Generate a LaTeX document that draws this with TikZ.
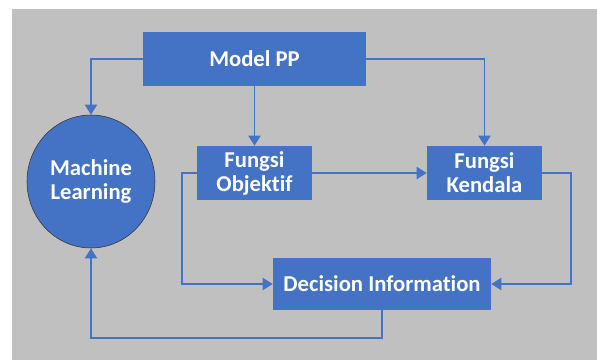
\documentclass[tikz,border=0pt]{standalone}
\usepackage{fontspec}
\setmainfont{Carlito}[Ligatures=NoCommon]
\usetikzlibrary{arrows.meta,shapes.geometric}
\definecolor{boxblue}{HTML}{4472C4}
\definecolor{bggray}{HTML}{C0C0C0}
\begin{document}
\begin{tikzpicture}[
  x=0.75pt, y=-0.75pt,
  box/.style={fill=boxblue, text=white, font=\fontsize{17}{18}\selectfont\bfseries, align=center, inner sep=0pt, minimum height=40.5pt},
  mlnode/.style={ellipse, fill=boxblue, draw=black!80, thin, text=white, font=\fontsize{17}{18.5}\selectfont\bfseries, align=center, inner sep=0pt, minimum width=96pt, minimum height=99.75pt},
  flow/.style={draw=boxblue, line width=1.4pt, -{Triangle[length=7.5pt,width=9pt]}}
  ]
  \useasboundingbox (0,0) rectangle (597,360);
  \fill[bggray] (12,9) rectangle (597,360);
  \node[box, minimum width=167.25pt] (mpp) at (254.5,59) {Model PP};
  \node[mlnode] (ml) at (91,181.5) {Machine\\Learning};
  \node[box, minimum width=86.25pt] (fo) at (254.5,173) {Fungsi\\Objektif};
  \node[box, minimum width=86.25pt] (fk) at (484.5,173) {Fungsi\\Kendala};
  \node[box, minimum width=163.5pt, minimum height=39pt] (dec) at (382,284) {Decision Information};
  \draw[flow] (mpp.west) -| (ml.north);
  \draw[flow] (mpp.south) -- (fo.north);
  \draw[flow] (mpp.east) -| (fk.north);
  \draw[flow] (fo.east) -- (fk.west);
  \draw[flow] (fo.west) -- ++(-15,0) |- (dec.west);
  \draw[flow] (fk.east) -- ++(29,0) |- (dec.east);
  \draw[flow] (dec.south) -- ++(0,28) -| (ml.south);
\end{tikzpicture}
\end{document}
